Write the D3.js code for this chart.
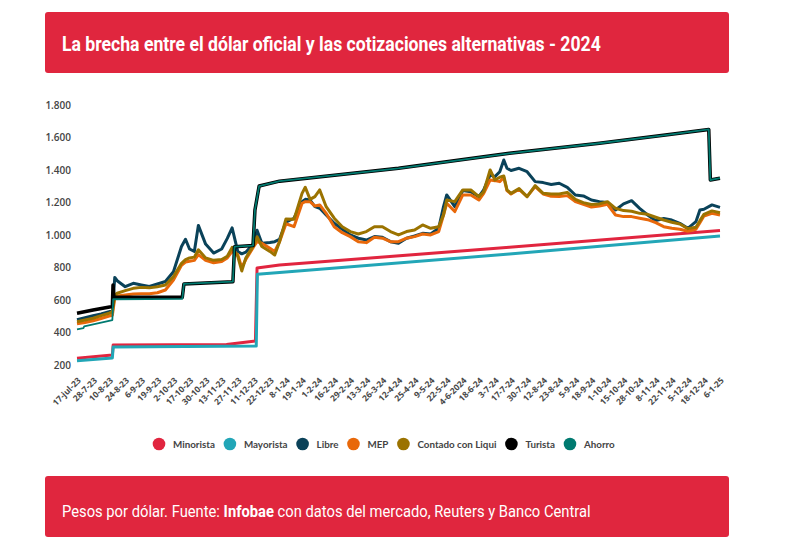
<!DOCTYPE html>
<html>
<head>
<meta charset="utf-8">
<script src="https://cdn.jsdelivr.net/npm/d3@7"></script>
<style>
  body { margin: 0; background: #fff; }
  svg { display: block; }
</style>
</head>
<body>
<svg id="chart" width="805" height="548"></svg>
<script>
// etiquetas del eje x (una cada ~9 ruedas)
var fechas = ["17-jul-23","28-7-23","10-8-23","24-8-23","6-9-23","19-9-23","2-10-23","17-10-23","30-10-23",
  "13-11-23","27-11-23","11-12-23","22-12-23","8-1-24","19-1-24","1-2-24","16-2-24","29-2-24","13-3-24",
  "26-3-24","12-4-24","25-4-24","9-5-24","22-5-24","4-6-2024","18-6-24","3-7-24","17-7-24","30-7-24",
  "12-8-24","23-8-24","5-9-24","18-9-24","1-10-24","15-10-24","28-10-24","8-11-24","22-11-24","5-12-24",
  "18-12-24","6-1-25"];

var yTicks = [200, 400, 600, 800, 1000, 1200, 1400, 1600, 1800];

// posicion en unidades de etiqueta (0 = 17-jul-23, 40 = 6-1-25)
var pos = [0, 0.5, 1, 1.5, 2, 2.2, 2.35, 2.5, 3, 3.5, 4, 4.5, 5, 5.5, 6, 6.5, 6.75, 7, 7.3, 7.55, 8, 8.5, 9,
  9.35, 9.65, 10, 10.25, 10.5, 11, 11.2, 11.5, 12, 12.3, 12.6, 13, 13.5, 14, 14.2, 14.5, 14.8, 15.1, 15.5,
  16, 16.5, 17, 17.5, 18, 18.5, 19, 19.5, 20, 20.5, 21, 21.5, 22, 22.5, 22.8, 23, 23.5, 24, 24.5, 25, 25.3,
  25.7, 26, 26.3, 26.55, 26.75, 27, 27.5, 28, 28.5, 29, 29.5, 30, 30.5, 31, 31.5, 32, 32.5, 33, 33.5, 34,
  34.5, 35, 35.5, 36, 36.5, 37, 37.5, 38, 38.5, 38.75, 39, 39.5, 40];

var libre = [480, 492, 505, 515, 530, 535, 740, 720, 683, 704, 694, 685, 700, 715, 775, 930, 975, 915, 900, 1060,
  945, 890, 915, 980, 1045, 900, 885, 895, 950, 1030, 950, 955, 960, 975, 1080, 1104, 1206, 1220, 1216, 1175,
  1165, 1124, 1073, 1036, 1001, 981, 970, 991, 987, 960, 950, 981, 995, 1011, 1007, 1042, 1175, 1247, 1175,
  1274, 1267, 1237, 1278, 1370, 1360, 1390, 1462, 1411, 1397, 1411, 1390, 1329, 1323, 1311, 1319, 1294, 1247,
  1241, 1216, 1206, 1200, 1155, 1192, 1212, 1165, 1124, 1089, 1102, 1093, 1073, 1042, 1083, 1155, 1159, 1186, 1171];

var mep = [455, 463, 474, 488, 503, 508, 615, 626, 632, 638, 640, 640, 646, 663, 724, 815, 835, 840, 845, 880,
  845, 830, 838, 860, 900, 880, 800, 850, 930, 960, 950, 920, 900, 960, 1070, 1052, 1196, 1206, 1206, 1179,
  1186, 1134, 1052, 1015, 991, 960, 954, 987, 981, 960, 960, 981, 991, 1007, 1001, 1022, 1124, 1196, 1145,
  1247, 1247, 1216, 1257, 1339, 1335, 1329, 1354, 1274, 1253, 1282, 1237, 1298, 1253, 1239, 1237, 1243, 1206,
  1190, 1173, 1179, 1190, 1124, 1114, 1114, 1104, 1095, 1077, 1052, 1042, 1036, 1024, 1036, 1077, 1118, 1134, 1124];

var ccl = [468, 478, 489, 505, 520, 528, 630, 643, 659, 673, 679, 676, 683, 694, 745, 827, 850, 860, 865, 910,
  860, 845, 850, 870, 925, 870, 780, 860, 940, 990, 930, 900, 878, 960, 1100, 1097, 1257, 1294, 1220, 1237,
  1278, 1175, 1104, 1052, 1022, 1007, 1022, 1052, 1052, 1022, 1001, 1022, 1032, 1063, 1042, 1052, 1124, 1216,
  1206, 1278, 1278, 1237, 1267, 1401, 1339, 1356, 1364, 1278, 1257, 1286, 1237, 1304, 1257, 1253, 1253, 1263,
  1220, 1200, 1188, 1192, 1206, 1165, 1151, 1147, 1134, 1128, 1110, 1093, 1079, 1069, 1040, 1048, 1089, 1128, 1149, 1138];

var minoristaPos = [0, 2.2, 2.25, 6, 9.3, 11.1, 11.2, 12.6, 26.9, 40];
var minorista = [243, 263, 325, 326, 328, 350, 798, 817, 925, 1028];

var mayoristaPos = [0, 2.2, 2.25, 11.15, 11.22, 12.6, 26.9, 40];
var mayorista = [228, 245, 313, 318, 760, 770, 884, 995];

var turistaPos = [0, 1, 2.2, 2.24, 2.3, 6.55, 6.65, 9.7, 9.8, 10.95, 11.07, 11.33, 12.6, 20, 26.9, 32.5, 36.6, 39.3, 39.4, 40];
var turista = [520, 540, 562, 694, 618, 618, 700, 714, 929, 936, 1155, 1302, 1332, 1411, 1503, 1565, 1615, 1650, 1339, 1350];

var ahorroPos = [0, 0.4, 0.45, 2.2, 2.25, 6.55, 6.65, 9.7, 9.8, 10.95, 11.07, 11.33, 12.6, 20, 26.9, 32.5, 36.6, 39.3, 39.4, 40];
var ahorro = [421, 428, 440, 478, 606, 608, 700, 714, 929, 936, 1155, 1302, 1332, 1411, 1503, 1565, 1615, 1650, 1339, 1350];

var series = [
  { name: "Minorista", color: "#e1253f", pos: minoristaPos, vals: minorista, w: 3 },
  { name: "Mayorista", color: "#22a6b7", pos: mayoristaPos, vals: mayorista, w: 3 },
  { name: "Libre", color: "#0a4259", pos: pos, vals: libre, w: 3 },
  { name: "MEP", color: "#e8680a", pos: pos, vals: mep, w: 3 },
  { name: "Contado con Liqui", color: "#9b7300", pos: pos, vals: ccl, w: 3 },
  { name: "Turista", color: "#000000", pos: turistaPos, vals: turista, w: 3.5 },
  { name: "Ahorro", color: "#007a70", pos: ahorroPos, vals: ahorro, w: 1.8 }
];

var svg = d3.select("#chart");
var red = "#e0263e";

var x = d3.scaleLinear().domain([0, 40]).range([77, 720]);
var y = d3.scaleLinear().domain([200, 1800]).range([365.3, 105]);

var locale = d3.formatLocale({ decimal: ",", thousands: ".", grouping: [3], currency: ["$", ""] });
var fmt = locale.format(",");

// texto angosto: se escala en x hasta el ancho pedido
function squeeze(t, px, py, width) {
  var len = t.node().getComputedTextLength();
  t.attr("x", 0).attr("y", 0)
    .attr("transform", "translate(" + px + "," + py + ") scale(" + (width / len) + ",1)");
}

function drawBanners() {
  svg.append("rect")
    .attr("x", 45).attr("y", 12).attr("width", 684).attr("height", 61)
    .attr("rx", 3).attr("fill", red);

  var title = svg.append("text")
    .style("font-family", "Roboto, 'Open Sans', sans-serif")
    .style("font-weight", 700).style("font-size", "20px")
    .style("fill", "#fff")
    .text("La brecha entre el dólar oficial y las cotizaciones alternativas - 2024");
  squeeze(title, 62, 51, 539);

  svg.append("rect")
    .attr("x", 45).attr("y", 476).attr("width", 684).attr("height", 61)
    .attr("rx", 3).attr("fill", red);

  var foot = svg.append("text")
    .style("font-family", "Roboto, 'Open Sans', sans-serif")
    .style("font-size", "17px").style("fill", "#fff");
  foot.append("tspan").text("Pesos por dólar. Fuente: ");
  foot.append("tspan").style("font-weight", 700).text("Infobae");
  foot.append("tspan").text(" con datos del mercado, Reuters y Banco Central");
  squeeze(foot, 62, 517, 529);
}

function drawAxes() {
  var yAxis = d3.axisLeft(y).tickValues(yTicks).tickFormat(fmt).tickSize(0).tickPadding(0);
  var gy = svg.append("g").attr("transform", "translate(71,0)").call(yAxis);
  gy.select(".domain").remove();
  gy.selectAll("text")
    .style("font-family", "'Open Sans', sans-serif")
    .style("font-weight", 600).style("font-size", "10px")
    .style("fill", "#444");

  var xAxis = d3.axisBottom(x)
    .tickValues(d3.range(fechas.length))
    .tickFormat(function(d) { return fechas[d]; })
    .tickSize(0);
  var gx = svg.append("g").attr("transform", "translate(0,365)").call(xAxis);
  gx.select(".domain").remove();
  gx.selectAll("text")
    .attr("x", 0).attr("y", 0).attr("dy", 0)
    .attr("transform", "translate(4,16) rotate(-45)")
    .style("text-anchor", "end")
    .style("font-family", "'Open Sans', sans-serif")
    .style("font-weight", 700).style("font-size", "8.5px")
    .style("fill", "#4a4a4a");
}

function drawLines() {
  var line = d3.line()
    .x(function(d) { return x(d[0]); })
    .y(function(d) { return y(d[1]); });

  var g = svg.append("g").attr("class", "lines");
  series.forEach(function(s) {
    var pts = s.pos.map(function(p, i) { return [p, s.vals[i]]; });
    g.append("path")
      .datum(pts)
      .attr("d", line)
      .attr("fill", "none")
      .attr("stroke", s.color)
      .attr("stroke-width", s.w)
      .attr("stroke-linejoin", "round");
  });
}

function drawLegend() {
  var lg = svg.append("g").attr("class", "legend");
  var cx = 159;
  series.forEach(function(s) {
    lg.append("circle")
      .attr("cx", cx).attr("cy", 444).attr("r", 6.3)
      .attr("fill", s.color);
    var t = lg.append("text")
      .attr("x", cx + 14).attr("y", 447.8)
      .style("font-family", "Lato, 'Open Sans', sans-serif")
      .style("font-weight", 700).style("font-size", "9.8px")
      .style("fill", "#444")
      .text(s.name);
    cx = cx + 14 + t.node().getComputedTextLength() + 15;
  });
}

drawBanners();
drawAxes();
drawLines();
drawLegend();
</script>
</body>
</html>
